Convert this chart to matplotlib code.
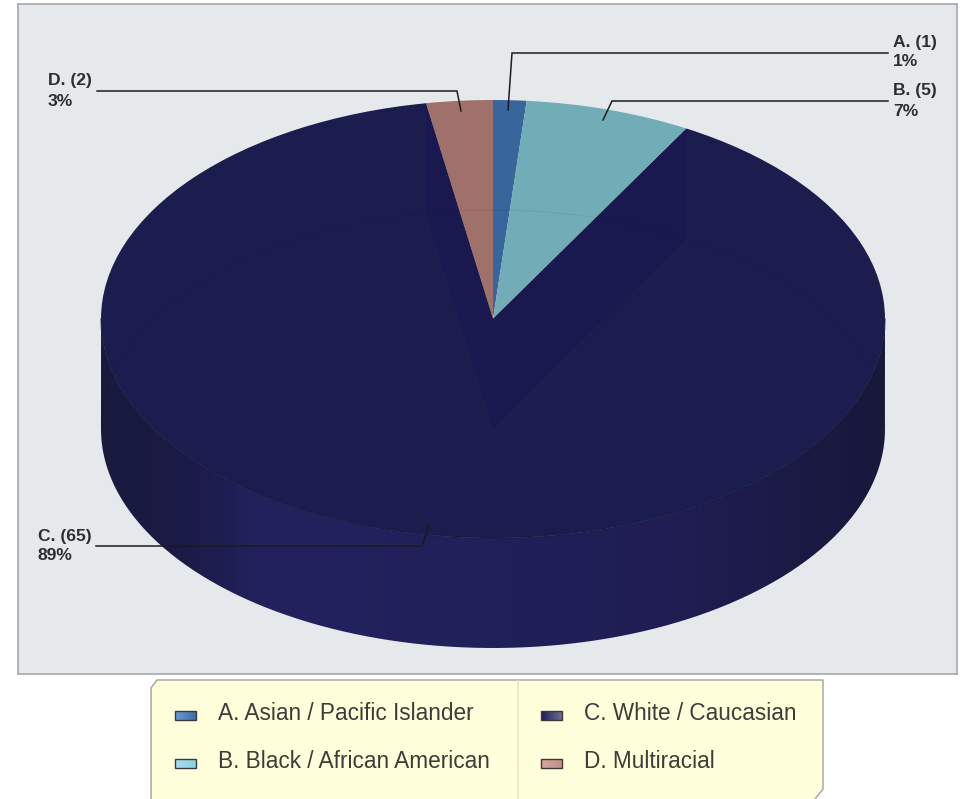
import numpy as np
import matplotlib
matplotlib.use("Agg")
import matplotlib.pyplot as plt
from matplotlib.colors import LinearSegmentedColormap
from matplotlib.patches import Polygon, PathPatch
from matplotlib.path import Path

plt.rcParams['font.family'] = ['Liberation Sans', 'DejaVu Sans']

keys = ["A", "B", "C", "D"]
categories = ["A. Asian / Pacific Islander", "B. Black / African American",
              "C. White / Caucasian", "D. Multiracial"]
counts = [1, 5, 65, 2]
slice_colors = ["#38659b", "#72adb7", "#1c1d4f", "#a0706a"]
swatch_colors = [("#6a9ad6", "#3f6fa8"), ("#a8e0ec", "#8cd0e0"),
                 ("#1e1e5c", "#6c6c94"), ("#d8a8a0", "#c09088")]

W, H = 966, 799
cx, cy, rx, ry, depth = 493, 319, 392, 219, 110

fig = plt.figure(figsize=(W / 100, H / 100), dpi=100, facecolor="white")

# ---- panel axes, unit circle squashed into the ellipse ----
px0, px1, py0, py1 = 18, 957, 4, 674
ax = fig.add_axes([px0 / W, 1 - py1 / H, (px1 - px0) / W, (py1 - py0) / H])
ax.set_facecolor("#e6e9ec")

# ---- side wall with the horizontal shading ----
d = depth / ry
t = np.linspace(-np.pi / 2, np.pi / 2, 300)
xs, ys = np.sin(t), -np.cos(t)
verts = np.r_[np.c_[xs, ys], np.c_[xs[::-1], ys[::-1] - d]]
side_cmap = LinearSegmentedColormap.from_list(
    "side", [(0, "#191a3e"), (0.1, "#1b1b47"), (0.2, "#23225f"),
             (0.5, "#20205a"), (0.75, "#1f1d52"), (1, "#18183c")])
side = ax.imshow(np.linspace(0, 1, 64)[None, :], cmap=side_cmap, aspect="auto",
                 extent=(-1, 1, -1 - d, 0), zorder=1)
side.set_clip_path(PathPatch(Path(verts), transform=ax.transData))

# ---- top face ----
wedges, _ = ax.pie(counts, colors=slice_colors, startangle=90, counterclock=False,
                   radius=1, center=(0, 0), frame=True,
                   wedgeprops=dict(linewidth=0, zorder=2))
ax.set_aspect("auto")
ax.set_xlim((px0 - cx) / rx, (px1 - cx) / rx)
ax.set_ylim((cy - py1) / ry, (cy - py0) / ry)
ax.set_xticks([])
ax.set_yticks([])
for s in ax.spines.values():
    s.set_color("#a8a8a8")
    s.set_linewidth(1.2)

# inner walls of slice C seen through the top
shares = np.cumsum(counts) / np.sum(counts)
for a in (2 * np.pi * shares[1], 2 * np.pi * shares[2]):
    sx, sy = np.sin(a), np.cos(a)
    ax.add_patch(Polygon([(0, 0), (sx, sy), (sx, sy - d), (0, -d)], closed=True,
                         facecolor="#19194f", edgecolor="none", zorder=3))

# faint bottom rim + front rim of top
t2 = np.linspace(-np.pi / 2, np.pi / 2, 200)
ax.plot(np.sin(t2), np.cos(t2) - d, color="black", alpha=0.05, lw=1, zorder=4)
ax.plot(np.sin(t2), -np.cos(t2), color="#15153c", alpha=0.6, lw=1, zorder=4)

# ---- overlay in pixel coords: leaders, labels, legend ----
ov = fig.add_axes([0, 0, 1, 1], facecolor="none")
ov.set_xlim(0, W)
ov.set_ylim(H, 0)
ov.axis("off")

leaders = {
    "A": [(508, 110), (512, 53), (888, 53)],
    "B": [(603, 120), (612, 101), (888, 101)],
    "C": [(96, 546), (422, 546), (429, 525)],
    "D": [(97, 91), (457, 91), (461, 111)],
}
label_pos = {"A": (893, 42), "B": (893, 91), "C": (38, 536), "D": (48, 81)}
for key, n in zip(keys, counts):
    pts = np.array(leaders[key])
    ov.plot(pts[:, 0], pts[:, 1], color="#1c1c1c", lw=1.1, solid_joinstyle="miter")
    x, y = label_pos[key]
    pct = round(100 * n / sum(counts))
    ov.text(x, y, f"{key}. ({n})", fontsize=12.6, fontweight="bold", color="#2e2e2e",
            va="center", ha="left")
    ov.text(x, y + 20, f"{pct}%", fontsize=12.6, fontweight="bold", color="#2e2e2e",
            va="center", ha="left")

# legend box with clipped corners, bottom runs off the picture
box = [(151, 799), (151, 688), (157, 680), (823, 680), (823, 789), (815, 799)]
ov.add_patch(Polygon(box, closed=True, facecolor="#ffffdc", edgecolor="none", clip_on=False))
box_pts = np.array(box)
ov.plot(box_pts[:, 0], box_pts[:, 1], color="#a9a9a0", lw=1.1)
ov.plot([518, 518], [681, 799], color="#e6e6cc", lw=1.2)

legend_pos = [(175, 715), (175, 763), (541, 715), (541, 763)]
for (sx, sy), label, (c0, c1) in zip(legend_pos, categories, swatch_colors):
    cm = LinearSegmentedColormap.from_list("sw", [c0, c1])
    ov.imshow(np.linspace(0, 1, 16)[None, :], cmap=cm, aspect="auto",
              extent=(sx, sx + 21, sy + 5, sy - 4), zorder=5)
    ov.add_patch(plt.Rectangle((sx, sy - 4), 21, 9, facecolor="none", edgecolor="#3a3a3a",
                               lw=1, zorder=6))
    ov.text(sx + 43, sy - 1, label, fontsize=16.3, color="#3c3c38", va="center", ha="left")
ov.set_xlim(0, W)
ov.set_ylim(H, 0)

fig.savefig("out.png", dpi=100, facecolor="white")
